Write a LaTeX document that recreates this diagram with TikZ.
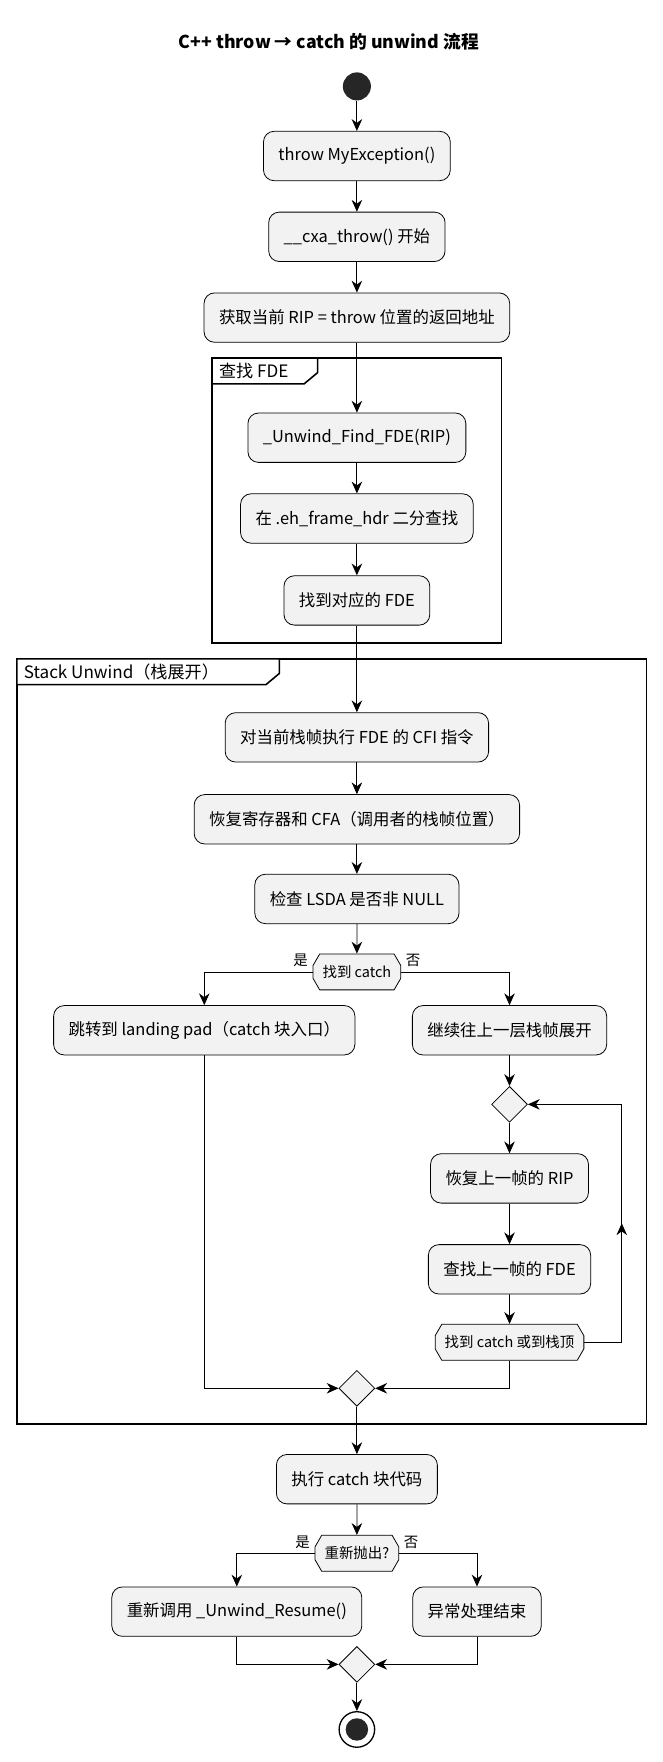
\documentclass[tikz,border=0pt]{standalone}
\usepackage{fontspec}
\setmainfont{Noto Sans CJK SC}
\usetikzlibrary{arrows.meta,shapes.geometric,shapes.misc}
\tikzset{
  act/.style={draw, rounded corners=8pt, fill=gray!10, minimum height=1.32cm, inner xsep=0.4cm, font=\fontsize{12.5}{14}\selectfont},
  cond/.style={draw, chamfered rectangle, chamfered rectangle xsep=2cm, chamfered rectangle angle=30, fill=gray!10, minimum height=0.96cm, inner xsep=0.15cm, inner ysep=0pt, font=\fontsize{11}{13}\selectfont},
  merge/.style={draw, diamond, fill=gray!10, minimum size=0.96cm, inner sep=0pt},
  flow/.style={-{Stealth[length=9pt,width=8pt]}, line width=0.6pt},
  frame/.style={draw, line width=1.2pt},
  lbl/.style={font=\fontsize{11}{13}\selectfont},
}
\begin{document}
\begin{tikzpicture}[x=0.03cm, y=-0.03cm, line width=0.6pt]
\useasboundingbox (0,0) rectangle (590,1570);

% title
\node[font=\bfseries\fontsize{13.5}{16}\selectfont] (title) at (293,37) {C++ throw → catch 的 unwind 流程};

% frames
\draw[frame] (189,319) rectangle (447,573);
\draw[frame, fill=white] (189,319) -- (283,319) -- (283,332) -- (271,342) -- (189,342) -- cycle;
\node[anchor=west, font=\fontsize{13}{15}\selectfont] (f1) at (191,331) {查找 FDE};
\draw[frame] (15,587) rectangle (576,1269);
\draw[frame, fill=white] (15,587) -- (249,587) -- (249,600) -- (237,610) -- (15,610) -- cycle;
\node[anchor=west, font=\fontsize{13}{15}\selectfont] (f2) at (17,599) {Stack Unwind（栈展开）};

% nodes
\node[circle, fill=black!85, minimum size=0.75cm, inner sep=0pt] (start) at (318,77) {};
\node[act] (n1) at (318,139) {throw MyException()};
\node[act] (n2) at (318,211) {\_\_cxa\_throw() 开始};
\node[act] (n3) at (318,283) {获取当前 RIP = throw 位置的返回地址};
\node[act] (n4) at (318,390) {\_Unwind\_Find\_FDE(RIP)};
\node[act] (n5) at (318,462) {在 .eh\_frame\_hdr 二分查找};
\node[act] (n6) at (318,535) {找到对应的 FDE};
\node[act] (n7) at (318,657) {对当前栈帧执行 FDE 的 CFI 指令};
\node[act] (n8) at (318,730) {恢复寄存器和 CFA（调用者的栈帧位置）};
\node[act] (n9) at (318,801) {检查 LSDA 是否非 NULL};
\node[cond] (c1) at (318,866) {找到 catch};
\node[act] (pad) at (182,918) {跳转到 landing pad（catch 块入口）};
\node[act] (up) at (454,918) {继续往上一层栈帧展开};
\node[merge] (loop) at (454,984) {};
\node[act] (rip) at (454,1050) {恢复上一帧的 RIP};
\node[act] (fde) at (454,1131) {查找上一帧的 FDE};
\node[cond] (c2) at (454,1196) {找到 catch 或到栈顶};
\node[merge] (m1) at (318,1237) {};
\node[act] (run) at (318,1318) {执行 catch 块代码};
\node[cond] (c3) at (318,1384) {重新抛出?};
\node[act] (res) at (211,1436) {重新调用 \_Unwind\_Resume()};
\node[act] (fin) at (425,1436) {异常处理结束};
\node[merge] (m2) at (318,1483) {};
\node[circle, draw, line width=1pt, minimum size=0.95cm, inner sep=0pt] (stop) at (318,1541) {};
\node[circle, fill=black!85, minimum size=0.6cm, inner sep=0pt] (stopin) at (stop) {};

% connectors
\draw[flow] (start) -- (n1);
\draw[flow] (n1) -- (n2);
\draw[flow] (n2) -- (n3);
\draw[flow] (n3) -- (n4);
\draw[flow] (n4) -- (n5);
\draw[flow] (n5) -- (n6);
\draw[flow] (n6) -- (n7);
\draw[flow] (n7) -- (n8);
\draw[flow] (n8) -- (n9);
\draw[flow] (n9) -- (c1);
\draw[flow] (c1.west) -| (pad.north);
\draw[flow] (c1.east) -| (up.north);
\node[lbl, anchor=south east] (yes1) at (c1.west) {是};
\node[lbl, anchor=south west] (no1) at (c1.east) {否};
\draw[flow] (up) -- (loop);
\draw[flow] (loop) -- (rip);
\draw[flow] (rip) -- (fde);
\draw[flow] (fde) -- (c2);
\draw (c2.east) -- (554,1196) -- (554,1095);
\draw[flow] (554,1100) -- (554,1090);
\draw[flow] (554,1095) |- (loop.east);
\draw[flow] (pad.south) |- (m1.west);
\draw[flow] (c2.south) |- (m1.east);
\draw[flow] (m1) -- (run);
\draw[flow] (run) -- (c3);
\draw[flow] (c3.west) -| (res.north);
\draw[flow] (c3.east) -| (fin.north);
\node[lbl, anchor=south east] (yes2) at (c3.west) {是};
\node[lbl, anchor=south west] (no2) at (c3.east) {否};
\draw[flow] (res.south) |- (m2.west);
\draw[flow] (fin.south) |- (m2.east);
\draw[flow] (m2) -- (stop);
\end{tikzpicture}
\end{document}
